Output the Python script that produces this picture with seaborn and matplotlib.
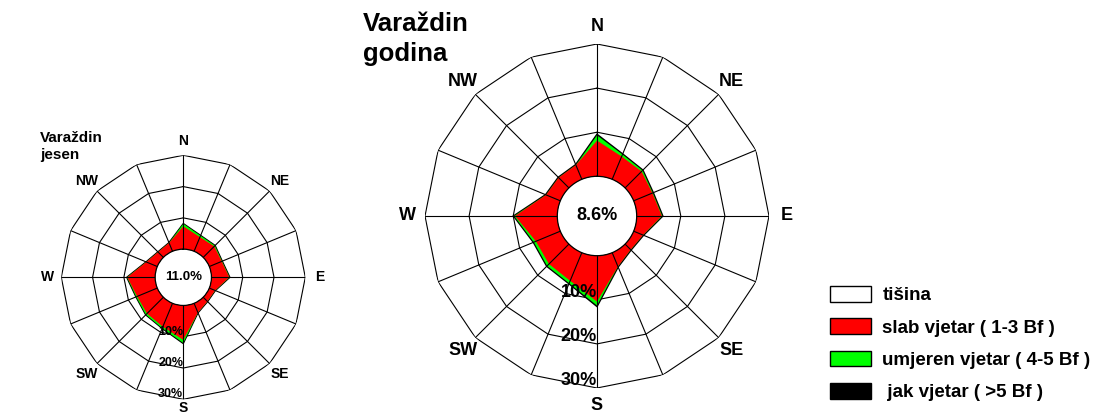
import numpy as np
import seaborn as sns
import matplotlib.pyplot as plt
from matplotlib.patches import Patch

# ______________________________________________________ DATA
directions = ['N', 'NNE', 'NE', 'ENE', 'E', 'ESE', 'SE', 'SSE',
              'S', 'SSW', 'SW', 'WSW', 'W', 'WNW', 'NW', 'NNW']
main_labels = ['N', 'NE', 'E', 'SE', 'S', 'SW', 'W', 'NW']
ring_levels = [10, 20, 30]
ring_labels = ['10%', '20%', '30%']

# Varazdin - godina (annual), % of time
god_slab = [8.1, 5.6, 5.3, 4.6, 5.7, 2.3, 1.8, 3.4, 10.4, 6.9, 6.4, 6.0, 9.6, 3.5, 3.3, 3.5]
god_umjeren = [1.2, 0.5, 0.3, 0.1, 0.1, 0.0, 0.0, 0.0, 0.9, 0.6, 0.6, 0.5, 0.2, 0.0, 0.0, 0.0]
god_jak = [0.2, 0.1, 0.1, 0.1, 0.1, 0.1, 0.1, 0.1, 0.2, 0.1, 0.1, 0.1, 0.1, 0.1, 0.1, 0.1]
god_calm = 8.6

# Varazdin - jesen (autumn), % of time
jes_slab = [7.3, 4.9, 5.0, 4.3, 5.7, 2.0, 1.9, 3.2, 11.0, 8.1, 7.4, 7.0, 8.9, 3.8, 2.4, 2.9]
jes_umjeren = [0.8, 0.5, 0.3, 0.1, 0.1, 0.0, 0.0, 0.0, 1.0, 0.5, 0.5, 0.3, 0.1, 0.0, 0.0, 0.0]
jes_jak = [0.1, 0.1, 0.1, 0.1, 0.1, 0.1, 0.1, 0.1, 0.2, 0.1, 0.1, 0.1, 0.1, 0.1, 0.1, 0.1]
jes_calm = 11.0

legend_labels = ['tišina', 'slab vjetar ( 1-3 Bf )', 'umjeren vjetar ( 4-5 Bf )', ' jak vjetar ( >5 Bf )']
legend_colors = ['white', '#ff0000', '#00ff00', 'black']

# ______________________________________________________ STYLE
sns.set_theme(style='white')
plt.rcParams['font.family'] = ['Liberation Sans', 'DejaVu Sans']
plt.rcParams['font.weight'] = 'bold'
plt.rcParams['text.color'] = 'black'

theta = np.deg2rad(np.arange(len(directions)) * 22.5)
theta_c = np.append(theta, theta[0])


def close(v):
    v = np.asarray(v, dtype=float)
    return np.append(v, v[0])


def wind_rose(ax, slab, umjeren, jak, calm, fs_dir, fs_ring, fs_calm, lw_out, r_lab, r_lab_s):
    ax.set_theta_zero_location('N')
    ax.set_theta_direction(-1)
    ax.set_ylim(0, 30)
    ax.set_rorigin(-9)
    ax.grid(False)
    ax.set_xticks([])
    ax.set_yticks([])
    ax.spines['polar'].set_visible(False)
    ax.spines['inner'].set_color('black')
    ax.spines['inner'].set_linewidth(0.9)

    s1 = np.asarray(slab)
    s2 = s1 + np.asarray(umjeren)
    s3 = s2 + np.asarray(jak)

    # polygon rings
    for lev in ring_levels:
        ax.plot(theta_c, [lev] * len(theta_c), color='black', lw=0.8, zorder=1)

    ax.fill(theta_c, close(s3), facecolor='black', edgecolor='black', lw=lw_out, zorder=2)
    ax.fill(theta_c, close(s2), facecolor='#00ff00', edgecolor='none', zorder=2)
    ax.fill(theta_c, close(s1), facecolor='#ff0000', edgecolor='none', zorder=2)

    # spokes
    for t in theta:
        ax.plot([t, t], [0, 30], color='black', lw=0.8, zorder=3)

    for i, lab in enumerate(main_labels):
        r = r_lab_s if lab == 'S' else r_lab
        ax.text(np.deg2rad(i * 45), r, lab, ha='center', va='center',
                fontsize=fs_dir, fontweight='bold', clip_on=False)
    for lev, lab in zip(ring_levels, ring_labels):
        ax.text(np.pi, lev - 1.6, lab, ha='right', va='center',
                fontsize=fs_ring, fontweight='bold', zorder=5, clip_on=False)
    ax.text(0.5, 0.5, f'{calm:.1f}%', transform=ax.transAxes, ha='center',
            va='center', fontsize=fs_calm, fontweight='bold')


fig = plt.figure(figsize=(11.01, 4.18), dpi=100)

ax1 = fig.add_axes([61.3 / 1101, 1 - 399.3 / 418, 244 / 1101, 244 / 418], projection='polar')
wind_rose(ax1, jes_slab, jes_umjeren, jes_jak, jes_calm, 10, 9, 9.5, 0.9, 34.5, 32.8)

ax2 = fig.add_axes([425 / 1101, 1 - 388 / 418, 344 / 1101, 344 / 418], projection='polar')
wind_rose(ax2, god_slab, god_umjeren, god_jak, god_calm, 13, 13, 13, 1.2, 34, 34)

fig.text(40 / 1101, 1 - 131 / 418, 'Varaždin\njesen', ha='left', va='top',
         fontsize=11, fontweight='bold', linespacing=1.3)
fig.text(363 / 1101, 1 - 12 / 418, 'Varaždin\ngodina', ha='left', va='top',
         fontsize=18.5, fontweight='bold', linespacing=1.3)

handles = [Patch(facecolor=c, edgecolor='black', lw=1) for c in legend_colors]
fig.legend(handles, legend_labels, loc='upper left',
           bbox_to_anchor=(830 / 1101, 1 - 286 / 418), frameon=False,
           fontsize=13.5, handlelength=2.2, handleheight=0.9,
           handletextpad=0.6, labelspacing=0.75, borderpad=0, borderaxespad=0)

fig.savefig('out.png', dpi=100)
